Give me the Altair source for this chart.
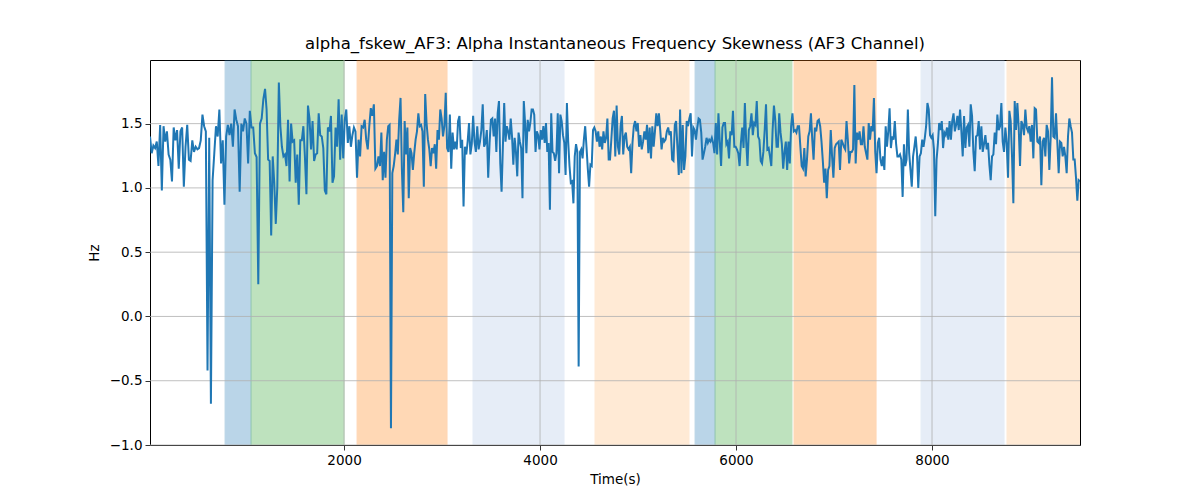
import altair as alt
import numpy as np
import pandas as pd

# time boundaries of the hand-read stretches of the trace
seg_edges = [20, 1194, 2367, 3541, 4714, 5888, 7061, 8286, 9510]

seg1 = [1.40, 1.27, 1.33, 1.31, 1.36, 1.17, 1.49, 0.98, 1.48, 1.36, 1.44, 1.26, 1.22, 1.05, 1.47, 1.37,
        1.45, 1.15, 1.44, 1.47, 1.01, 1.32, 1.49, 1.22, 1.21, 1.37, 1.28, 1.32, 1.30, 1.31, 1.37, 1.57,
        1.48, 1.44, -0.42, 1.39, -0.68, 1.06, 1.27, 1.48, 1.40, 1.61, 1.19, 1.37, 0.87, 1.40, 1.49, 1.41,
        1.50, 1.32, 1.61, 1.53, 1.48, 0.97, 1.50, 1.44, 1.54, 1.50, 1.19, 1.60, 1.47, 1.47, 1.27, 1.24,
        0.25, 1.50, 1.54, 1.69]
seg2 = [1.77, 1.61, 1.22, 1.21, 0.63, 1.245, 1.04, 0.72, 1.01, 1.82, 1.48, 1.32, 1.245, 1.26, 1.17, 1.53,
        1.05, 1.50, 1.36, 1.37, 1.04, 1.26, 0.87, 1.37, 1.37, 1.48, 1.245, 0.95, 1.64, 1.54, 1.30, 1.52,
        1.21, 1.26, 1.27, 1.58, 1.41, 1.40, 1.31, 0.98, 0.95, 1.47, 1.44, 1.56, 1.04, 1.09, 1.47, 1.32,
        1.69, 1.22, 1.57, 1.23, 1.53, 1.61, 1.35, 1.48, 1.32, 1.41, 1.47, 1.44, 1.08, 1.375, 1.245, 1.48,
        1.47, 1.53, 1.375, 1.30, 1.48, 1.62, 1.56, 1.65, 1.15, 1.17, 1.245]
seg3 = [1.17, 1.43, 1.06, 1.28, 1.08, 1.375, 1.48, 1.49, -0.87, 1.115, 1.17, 1.26, 1.375, 1.26, 1.53, 1.70,
        1.14, 0.81, 1.52, 1.26, 1.47, 0.92, 1.31, 1.27, 1.14, 1.27, 1.375, 1.44, 1.58, 1.48, 1.49, 1.44,
        1.01, 1.73, 1.505, 1.375, 1.30, 1.17, 1.31, 1.27, 1.34, 1.15, 1.45, 1.375, 1.61, 1.54, 1.40, 1.48,
        1.74, 1.31, 1.28, 1.57, 1.15, 1.43, 1.30, 1.36, 1.30, 1.52, 1.56, 1.31, 1.375, 0.855, 1.32, 1.26,
        1.36, 1.505, 1.26, 1.34, 1.56, 1.36, 1.28, 1.48, 1.30, 1.36, 1.45, 1.65, 1.32, 1.35, 1.45, 1.08,
        1.35, 1.53, 1.54, 1.40]
seg4 = [1.54, 1.28, 1.58, 1.675, 1.19, 0.97, 1.32, 1.66, 1.36, 1.48, 1.44, 1.375, 1.54, 1.40, 1.18, 1.39,
        1.28, 1.09, 1.43, 1.36, 1.31, 0.92, 1.675, 1.505, 1.27, 1.53, 1.44, 1.505, 1.61, 1.61, 1.57, 1.28,
        1.44, 1.41, 1.30, 1.45, 1.375, 1.48, 1.35, 1.505, 1.28, 1.35, 0.83, 1.58, 1.28, 1.27, 1.21, 1.27,
        1.58, 1.115, 1.57, 1.52, 1.41, 1.35, 1.10, 1.66, 1.36, 1.17, 1.04, 1.05, 0.88, 1.245, 1.34, 1.28,
        -0.39, 1.28, 1.30, 1.23, 1.375, 1.48, 1.32, 1.15, 1.01, 1.18, 1.17, 1.45, 1.47, 1.44, 1.36, 1.44,
        1.32, 1.40, 1.30, 1.44, 1.35, 1.39, 1.54, 1.22]
seg5 = [1.22, 1.375, 1.54, 1.60, 1.245, 1.64, 1.32, 1.26, 1.48, 1.56, 1.26, 1.40, 1.43, 1.32, 1.30, 1.32,
        1.115, 1.35, 1.48, 1.52, 1.44, 1.505, 1.32, 1.41, 1.30, 1.36, 1.44, 1.375, 1.49, 1.27, 1.47, 1.23,
        1.48, 1.32, 1.44, 1.58, 1.48, 1.58, 1.45, 1.30, 1.39, 1.36, 1.375, 1.44, 1.47, 1.41, 1.44, 1.22,
        1.21, 1.49, 1.52, 1.31, 1.10, 1.61, 1.115, 1.49, 1.14, 1.245, 1.52, 1.48, 1.54, 1.58, 1.245, 1.47,
        1.45, 1.375, 1.47, 1.54, 1.53, 1.43, 1.22, 1.27, 1.32, 1.39, 1.35, 1.375, 1.36, 1.39, 1.35, 1.27,
        1.505, 1.26, 1.58, 1.36, 1.17, 1.47, 1.505]
seg6 = [1.505, 1.34, 1.36, 1.23, 1.44, 1.41, 1.60, 1.32, 1.32, 1.30, 1.27, 1.17, 1.35, 1.47, 1.31, 1.66,
        1.36, 1.17, 1.45, 1.48, 1.58, 1.41, 1.505, 1.49, 1.675, 1.40, 1.375, 1.21, 1.19, 1.28, 1.45, 1.65,
        1.30, 1.31, 1.245, 1.17, 1.45, 1.64, 1.53, 1.32, 1.32, 1.58, 1.43, 1.34, 1.15, 1.28, 1.36, 1.14,
        1.36, 1.19, 1.48, 1.58, 1.44, 1.45, 1.43, 1.48, 1.48, 1.32, 1.17, 1.15, 1.31, 1.09, 1.22, 1.40,
        1.44, 1.58, 1.375, 1.22, 1.47, 1.44, 1.52, 1.53, 1.48, 1.36, 1.21, 1.04, 1.15, 0.92, 1.14, 1.17,
        1.45, 1.245, 1.08, 1.31, 1.34, 1.35, 1.36]
seg7 = [1.14, 1.375, 1.35, 1.32, 1.30, 1.52, 1.375, 1.19, 1.28, 1.28, 1.30, 1.80, 1.19, 1.43, 1.375, 1.44,
        1.34, 1.34, 1.48, 1.32, 1.27, 1.22, 1.505, 1.375, 1.48, 1.44, 1.70, 1.28, 1.115, 1.35, 1.39, 1.22,
        1.17, 1.245, 1.14, 1.48, 1.32, 1.44, 1.62, 1.31, 1.40, 1.375, 1.52, 1.34, 1.245, 1.245, 1.26, 1.22,
        0.93, 1.34, 1.17, 1.22, 1.61, 1.27, 1.14, 1.01, 1.245, 1.32, 1.40, 1.27, 1.00, 1.245, 1.27, 1.375,
        1.32, 1.39, 1.48, 1.66, 1.61, 1.41, 1.39, 1.41, 1.30, 0.78, 1.22, 1.34, 1.505, 1.45, 1.52, 1.31,
        1.43, 1.41, 1.47, 1.375, 1.52, 1.375, 1.52, 1.58, 1.44, 1.49, 1.56, 1.45]
seg8 = [1.61, 1.44, 1.245, 1.56, 1.31, 1.47, 1.49, 1.32, 1.65, 1.56, 1.28, 1.13, 1.40, 1.41, 1.52, 1.30,
        1.48, 1.28, 1.34, 1.41, 1.30, 1.35, 1.18, 1.06, 1.245, 1.26, 1.43, 1.34, 1.57, 1.45, 1.48, 1.66,
        1.36, 1.28, 1.47, 1.35, 1.08, 1.60, 1.52, 1.245, 0.88, 1.675, 1.45, 1.66, 1.47, 1.17, 1.52, 1.49,
        1.41, 1.61, 1.47, 1.44, 1.48, 1.36, 1.49, 1.23, 1.62, 1.61, 1.36, 1.35, 1.40, 1.02, 1.36, 1.39,
        1.245, 1.49, 1.44, 1.14, 1.39, 1.86, 1.40, 1.39, 1.58, 1.35, 1.115, 1.36, 1.35, 1.245, 1.32, 1.245,
        1.115, 1.40, 1.54, 1.48, 1.43, 1.22, 1.22, 1.08, 0.90, 1.06, 1.05]

band_start = [786, 1051, 2133, 3316, 4561, 5582, 5786, 6592, 7888, 8765]
band_end = [1051, 2000, 3051, 4245, 5520, 5786, 6571, 7429, 8735, 9600]
band_color = ["#1f77b4", "#2ca02c", "#ff7f0e", "#aec7e8", "#ffbb78",
              "#1f77b4", "#2ca02c", "#ff7f0e", "#aec7e8", "#ffbb78"]

x_ticks = [2000, 4000, 6000, 8000]
y_ticks = [-1.0, -0.5, 0.0, 0.5, 1.0, 1.5]

segments = [seg1, seg2, seg3, seg4, seg5, seg6, seg7, seg8]
times, values = [], []
for i, seg in enumerate(segments):
    last = i == len(segments) - 1
    times.extend(np.linspace(seg_edges[i], seg_edges[i + 1], len(seg), endpoint=last))
    values.extend(seg)

line_df = pd.DataFrame({"t": times, "v": values})
band_df = pd.DataFrame({"a": band_start, "b": band_end, "c": band_color})
xgrid_df = pd.DataFrame({"g": x_ticks})
ygrid_df = pd.DataFrame({"g": y_ticks})

W, H = 930, 385
xs = alt.Scale(domain=[20, 9510], nice=False, zero=False)
ys = alt.Scale(domain=[-1.0, 1.995], nice=False, zero=False)
x_axis = alt.Axis(values=x_ticks, format="d", grid=False)
y_axis = alt.Axis(values=y_ticks, format=".1f", grid=False)

bands = alt.Chart(band_df).mark_rect(opacity=0.3, strokeWidth=1, clip=True).encode(
    x=alt.X("a:Q", scale=xs, title="Time(s)", axis=x_axis),
    x2="b:Q",
    y=alt.value(0),
    y2=alt.value(H),
    color=alt.Color("c:N", scale=None),
    stroke=alt.Color("c:N", scale=None),
)

xgrid = alt.Chart(xgrid_df).mark_rule(color="#b0b0b0", strokeWidth=0.8).encode(
    x=alt.X("g:Q", scale=xs, title="Time(s)", axis=x_axis)
)
ygrid = alt.Chart(ygrid_df).mark_rule(color="#b0b0b0", strokeWidth=0.8).encode(
    y=alt.Y("g:Q", scale=ys, title="Hz", axis=y_axis)
)

line = alt.Chart(line_df).mark_line(color="#1f77b4", strokeWidth=2, clip=True).encode(
    x=alt.X("t:Q", scale=xs, title="Time(s)", axis=x_axis),
    y=alt.Y("v:Q", scale=ys, title="Hz", axis=y_axis),
)

chart = alt.layer(bands, xgrid, ygrid, line).properties(
    width=W,
    height=H,
    title=alt.TitleParams(
        "alpha_fskew_AF3: Alpha Instantaneous Frequency Skewness (AF3 Channel)",
        fontSize=16.5, fontWeight="normal", font="DejaVu Sans", color="black",
        anchor="middle", frame="group", offset=7,
    ),
    autosize=alt.AutoSizeParams(type="none"),
    padding={"left": 142, "top": 52, "right": 110, "bottom": 47},
).configure_view(
    stroke="black", strokeWidth=1
).configure_axis(
    domain=False,
    ticks=True,
    tickColor="black",
    tickSize=5,
    tickWidth=0.8,
    labelColor="black",
    labelFont="DejaVu Sans",
    labelFontSize=13.5,
    labelPadding=3,
    titleFont="DejaVu Sans",
    titleFontSize=13.5,
    titleFontWeight="normal",
    titleColor="black",
).configure_axisX(
    titlePadding=6
).configure_axisY(
    titlePadding=8
)

chart.save("out.html", embed_options={"renderer": "svg", "actions": False})
